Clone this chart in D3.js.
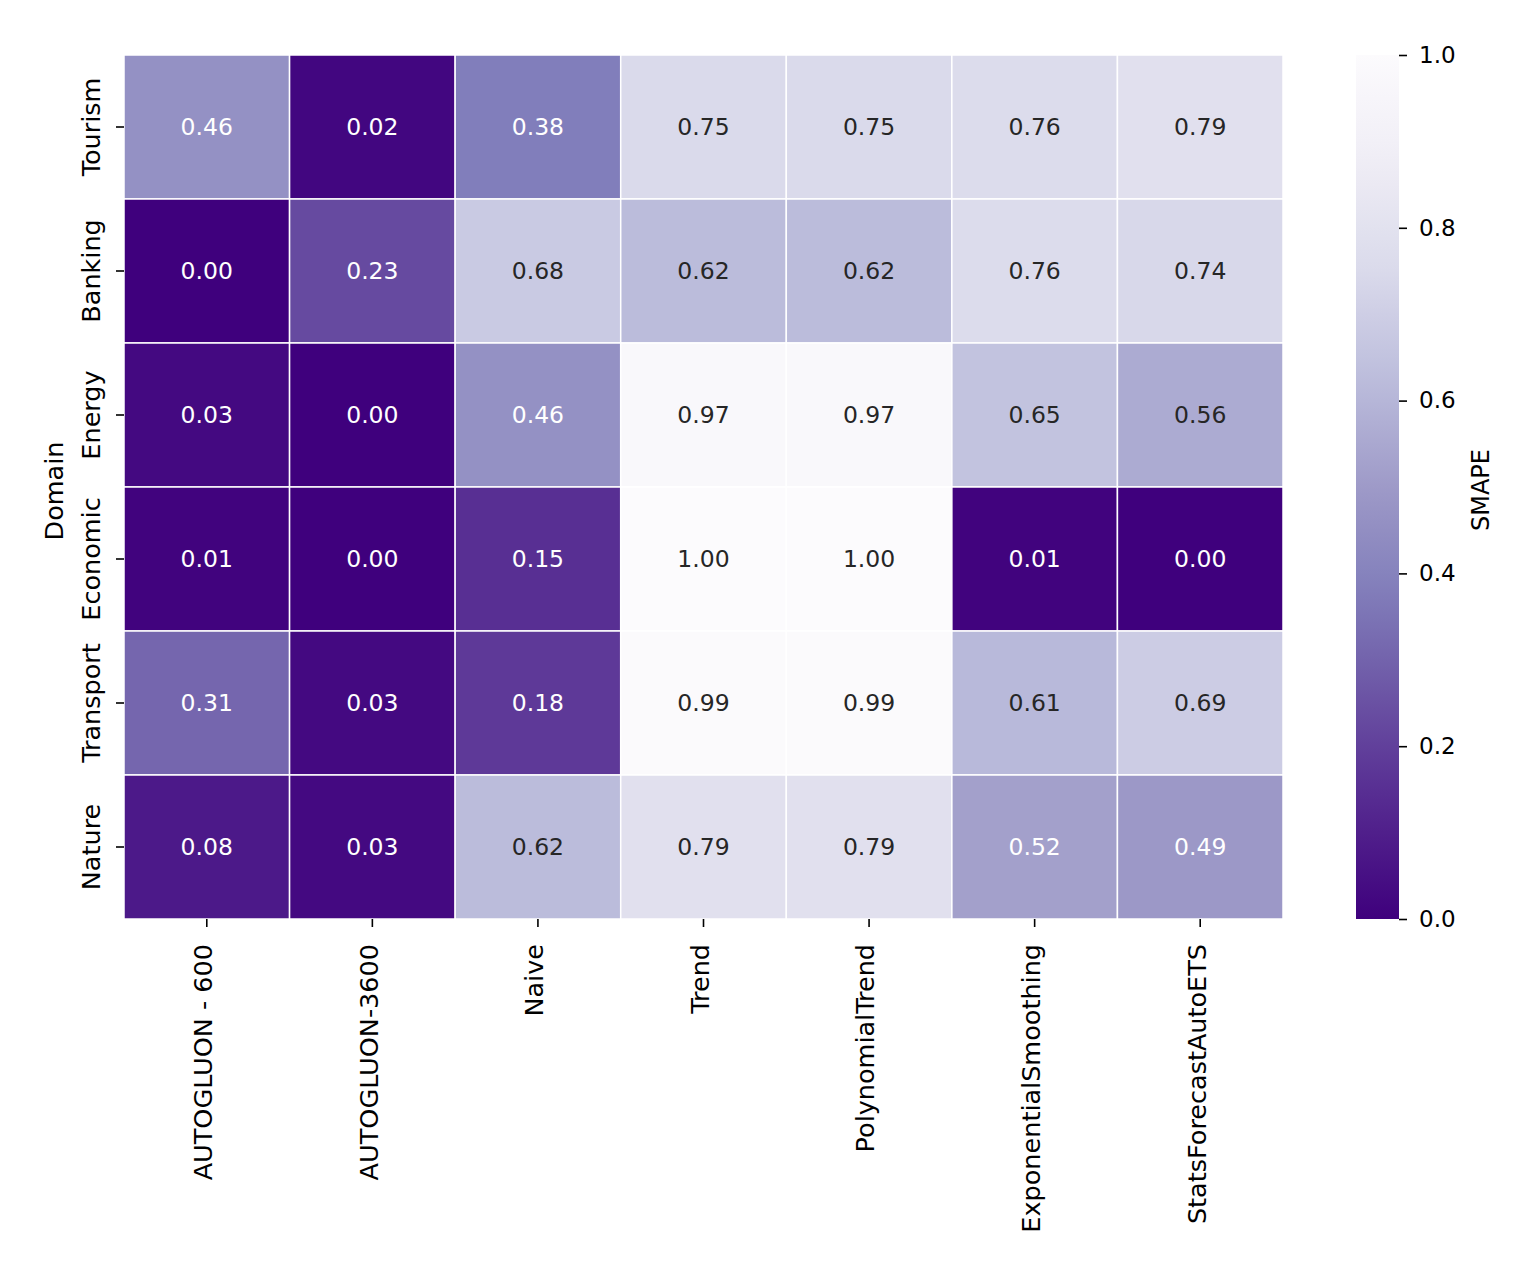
<!DOCTYPE html>
<html lang="en">
<head>
<meta charset="UTF-8">
<title>SMAPE heatmap</title>
<script src="https://d3js.org/d3.v7.min.js"></script>
<style>
  body { margin: 0; background: #fff; }
  svg { display: block; font-family: "DejaVu Sans", sans-serif; }
</style>
</head>
<body>
<script>
// data
const domains = ["Tourism", "Banking", "Energy", "Economic", "Transport", "Nature"];
const models = ["AUTOGLUON - 600", "AUTOGLUON-3600", "Naive", "Trend", "PolynomialTrend", "ExponentialSmoothing", "StatsForecastAutoETS"];
const tourism   = [0.46, 0.02, 0.38, 0.75, 0.75, 0.76, 0.79];
const banking   = [0.00, 0.23, 0.68, 0.62, 0.62, 0.76, 0.74];
const energy    = [0.03, 0.00, 0.46, 0.97, 0.97, 0.65, 0.56];
const economic  = [0.01, 0.00, 0.15, 1.00, 1.00, 0.01, 0.00];
const transport = [0.31, 0.03, 0.18, 0.99, 0.99, 0.61, 0.69];
const nature    = [0.08, 0.03, 0.62, 0.79, 0.79, 0.52, 0.49];
const rows = [tourism, banking, energy, economic, transport, nature];
const cbarTicks = [0.0, 0.2, 0.4, 0.6, 0.8, 1.0];

const W = 1518, H = 1274;
const mLeft = 124, mTop = 55, mRight = 1283, mBottom = 919;
const cbX = 1356, cbW = 43;
const tickLen = 8;
const fsAnn = 23.5, fsTick = 25.5, fsCbar = 23;

// matplotlib Purples, reversed
const purples = ["#fcfbfd", "#efedf5", "#dadaeb", "#bcbddc", "#9e9ac8", "#807dba", "#6a51a3", "#54278f", "#3f007d"];
const cmap = d3.scaleLinear()
  .domain(d3.range(purples.length).map(i => 1 - i / (purples.length - 1)))
  .range(purples)
  .interpolate(d3.interpolateRgb)
  .clamp(true);

function textColor(c) {
  const rgb = d3.rgb(c);
  const lin = v => { v /= 255; return v <= 0.03928 ? v / 12.92 : Math.pow((v + 0.055) / 1.055, 2.4); };
  const L = 0.2126 * lin(rgb.r) + 0.7152 * lin(rgb.g) + 0.0722 * lin(rgb.b);
  return L > 0.408 ? "#262626" : "#ffffff";
}

const svg = d3.select("body").append("svg").attr("width", W).attr("height", H);
svg.append("rect").attr("width", W).attr("height", H).attr("fill", "#fff");

const x = d3.scaleBand().domain(models).range([mLeft, mRight]).padding(0);
const y = d3.scaleBand().domain(domains).range([mTop, mBottom]).padding(0);

const cells = [];
rows.forEach((r, i) => r.forEach((v, j) => cells.push({ d: domains[i], m: models[j], v: v })));

svg.append("g").selectAll("rect").data(cells).join("rect")
  .attr("x", d => x(d.m)).attr("y", d => y(d.d))
  .attr("width", x.bandwidth()).attr("height", y.bandwidth())
  .attr("fill", d => cmap(d.v))
  .attr("stroke", "#fff").attr("stroke-width", 1.5);

svg.append("g").selectAll("text").data(cells).join("text")
  .attr("x", d => x(d.m) + x.bandwidth() / 2)
  .attr("y", d => y(d.d) + y.bandwidth() / 2)
  .attr("dy", "0.36em")
  .attr("text-anchor", "middle")
  .attr("font-size", fsAnn)
  .attr("fill", d => textColor(cmap(d.v)))
  .text(d => d.v.toFixed(2));

// x axis
const gx = svg.append("g").attr("transform", `translate(0,${mBottom})`)
  .call(d3.axisBottom(x).tickSize(tickLen).tickSizeOuter(0));
gx.select(".domain").remove();
gx.selectAll(".tick line").attr("stroke", "#000").attr("stroke-width", 1.6);
gx.selectAll(".tick text")
  .attr("transform", "rotate(-90)")
  .attr("x", -25).attr("y", 0).attr("dy", "0.21em")
  .style("text-anchor", "end")
  .attr("font-size", fsTick).attr("fill", "#000")
  .style("font-family", "DejaVu Sans");

// y axis
const gy = svg.append("g").attr("transform", `translate(${mLeft},0)`)
  .call(d3.axisLeft(y).tickSize(tickLen).tickSizeOuter(0));
gy.select(".domain").remove();
gy.selectAll(".tick line").attr("stroke", "#000").attr("stroke-width", 1.6);
gy.selectAll(".tick text")
  .attr("transform", "rotate(-90)")
  .attr("x", 0).attr("y", -24).attr("dy", 0)
  .style("text-anchor", "middle")
  .attr("font-size", fsTick).attr("fill", "#000")
  .style("font-family", "DejaVu Sans");

svg.append("text")
  .attr("transform", `translate(63,${(mTop + mBottom) / 2 + 4}) rotate(-90)`)
  .attr("text-anchor", "middle")
  .attr("font-size", fsTick)
  .text("Domain");

// colorbar
const defs = svg.append("defs");
const grad = defs.append("linearGradient").attr("id", "cbar")
  .attr("x1", 0).attr("y1", 1).attr("x2", 0).attr("y2", 0);
d3.range(0, 1.0001, 0.05).forEach(t => {
  grad.append("stop").attr("offset", t).attr("stop-color", cmap(t));
});
svg.append("rect").attr("x", cbX).attr("y", mTop)
  .attr("width", cbW).attr("height", mBottom - mTop)
  .attr("fill", "url(#cbar)");

const cy = d3.scaleLinear().domain([0, 1]).range([mBottom, mTop]);
const gc = svg.append("g").attr("transform", `translate(${cbX + cbW},0)`)
  .call(d3.axisRight(cy).tickValues(cbarTicks).tickFormat(d3.format(".1f")).tickSize(tickLen).tickPadding(12));
gc.select(".domain").remove();
gc.selectAll(".tick line").attr("stroke", "#000").attr("stroke-width", 1.6);
gc.selectAll(".tick text").attr("font-size", fsCbar).attr("fill", "#000")
  .style("font-family", "DejaVu Sans");

svg.append("text")
  .attr("transform", `translate(1489,${(mTop + mBottom) / 2 + 3}) rotate(-90)`)
  .attr("text-anchor", "middle")
  .attr("font-size", fsCbar + 1)
  .text("SMAPE");
</script>
</body>
</html>
